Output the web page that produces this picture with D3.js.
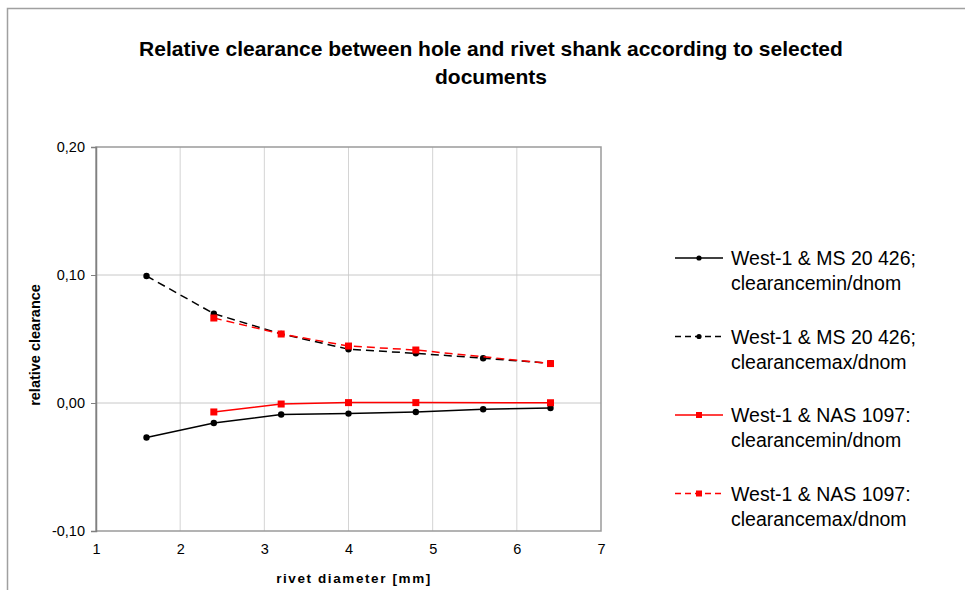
<!DOCTYPE html>
<html>
  <head>
    <meta charset="utf-8">
    <title>Relative clearance</title>
    <script src="https://d3js.org/d3.v7.min.js"></script>
    <style>
      body { margin: 0; background: #fff; }
      svg { font-family: "Liberation Sans", Arial, sans-serif; }
      .title { font-size: 21px; font-weight: bold; fill: #000; }
      .axis-title { font-weight: bold; fill: #000; }
      .legend text { font-size: 19.5px; fill: #000; }
    </style>
  </head>
  <body>
    <svg width="965" height="590"></svg>

    <script>
      // data
      const msX = [1.6, 2.4, 3.2, 4.0, 4.8, 5.6, 6.4];
      const msMin = [-0.027, -0.0156, -0.009, -0.0083, -0.007, -0.0049, -0.0039];
      const msMax = [0.0992, 0.0698, 0.054, 0.042, 0.0388, 0.035, 0.031];
      const nasX = [2.4, 3.2, 4.0, 4.8, 6.4];
      const nasMin = [-0.007, -0.0008, 0.0003, 0.0003, 0.0002];
      const nasMax = [0.0664, 0.0539, 0.0445, 0.0414, 0.0308];
      const xTicks = [1, 2, 3, 4, 5, 6, 7];
      const yTicks = [-0.1, 0, 0.1, 0.2];

      const series = [
        { x: msX, y: msMin, color: "#000", dash: null, marker: "circle",
          label: ["West-1 & MS 20 426;", "clearancemin/dnom"] },
        { x: msX, y: msMax, color: "#000", dash: "8,5", marker: "circle",
          label: ["West-1 & MS 20 426;", "clearancemax/dnom"] },
        { x: nasX, y: nasMin, color: "#ff0000", dash: null, marker: "square",
          label: ["West-1 & NAS 1097:", "clearancemin/dnom"] },
        { x: nasX, y: nasMax, color: "#ff0000", dash: "8,5", marker: "square",
          label: ["West-1 & NAS 1097:", "clearancemax/dnom"] },
      ];

      const svg = d3.select("svg");
      const plot = { left: 96, top: 147, right: 601, bottom: 531 };

      // outer frame
      svg.append("path")
        .attr("d", "M7.5,590 V8.5 H965")
        .attr("fill", "none")
        .attr("stroke", "#a0a0a0")
        .attr("stroke-width", 1.5);

      // title
      const title = svg.append("text").attr("class", "title").attr("text-anchor", "middle");
      title.append("tspan").attr("x", 491).attr("y", 56)
        .text("Relative clearance between hole and rivet shank according to selected");
      title.append("tspan").attr("x", 491).attr("y", 84).text("documents");

      const x = d3.scaleLinear().domain([1, 7]).range([plot.left, plot.right]);
      const y = d3.scaleLinear().domain([-0.1, 0.2]).range([plot.bottom, plot.top]);
      const fmt = d => d3.format(".2f")(d).replace(".", ",").replace("\u2212", "-");

      // grid
      svg.append("g").selectAll("line").data(xTicks.slice(1, -1)).join("line")
        .attr("x1", d => x(d)).attr("x2", d => x(d))
        .attr("y1", plot.top).attr("y2", plot.bottom)
        .attr("stroke", "#d4d4d4").attr("stroke-width", 1);
      svg.append("g").selectAll("line").data(yTicks.slice(1, -1)).join("line")
        .attr("x1", plot.left).attr("x2", plot.right)
        .attr("y1", d => y(d)).attr("y2", d => y(d))
        .attr("stroke", "#c8c8c8").attr("stroke-width", 1);

      // plot frame
      svg.append("rect")
        .attr("x", plot.left).attr("y", plot.top)
        .attr("width", plot.right - plot.left).attr("height", plot.bottom - plot.top)
        .attr("fill", "none").attr("stroke", "#9a9a9a").attr("stroke-width", 1.5);

      // y axis
      const yAxis = svg.append("g")
        .attr("transform", `translate(${plot.left},0)`)
        .call(d3.axisLeft(y).tickValues(yTicks).tickFormat(fmt).tickSizeOuter(0).tickSize(5).tickPadding(6));
      yAxis.attr("font-family", null).attr("font-size", null);
      yAxis.select(".domain").attr("stroke", "#808080").attr("stroke-width", 1.5);
      yAxis.selectAll(".tick line").attr("stroke", "#808080");
      yAxis.selectAll(".tick text").style("font-size", "14.5px").attr("fill", "#000");

      // x axis labels (no tick marks)
      const xAxis = svg.append("g")
        .attr("transform", `translate(0,${plot.bottom})`)
        .call(d3.axisBottom(x).tickValues(xTicks).tickFormat(d3.format("d")).tickSize(0).tickPadding(13));
      xAxis.attr("font-family", null).attr("font-size", null);
      xAxis.select(".domain").remove();
      xAxis.selectAll(".tick text").style("font-size", "14.5px").attr("fill", "#000");

      // axis titles
      svg.append("text").attr("class", "axis-title")
        .attr("x", 354).attr("y", 583).attr("text-anchor", "middle")
        .attr("letter-spacing", 1.6)
        .style("font-size", "13.5px")
        .text("rivet diameter [mm]");
      svg.append("text").attr("class", "axis-title")
        .attr("transform", "translate(40,345) rotate(-90)")
        .attr("text-anchor", "middle")
        .style("font-size", "14.5px")
        .text("relative clearance");

      // series
      const line = d3.line().x(d => x(d[0])).y(d => y(d[1]));
      function drawMarker(g, mk, color) {
        if (mk === "circle") {
          g.append("circle").attr("r", 3.2).attr("fill", color);
        } else {
          g.append("rect").attr("x", -3.5).attr("y", -3.5).attr("width", 7).attr("height", 7).attr("fill", color);
        }
      }
      const order = [0, 2, 1, 3];
      order.forEach(i => {
        const s = series[i];
        const pts = s.x.map((v, j) => [v, s.y[j]]);
        svg.append("path").datum(pts)
          .attr("d", line)
          .attr("fill", "none")
          .attr("stroke", s.color)
          .attr("stroke-width", 1.5)
          .attr("stroke-dasharray", s.dash);
        pts.forEach(p => {
          const g = svg.append("g").attr("transform", `translate(${x(p[0])},${y(p[1])})`);
          drawMarker(g, s.marker, s.color);
        });
      });

      // legend
      const legend = svg.append("g").attr("class", "legend").attr("transform", "translate(675,258)");
      series.forEach((s, i) => {
        const g = legend.append("g").attr("transform", `translate(0,${i * 78.5})`);
        g.append("line").attr("x1", 0).attr("x2", 48).attr("y1", 0).attr("y2", 0)
          .attr("stroke", s.color).attr("stroke-width", 1.4)
          .attr("stroke-dasharray", s.dash ? "6,4" : null);
        const m = g.append("g").attr("transform", "translate(24,0)");
        if (s.marker === "circle") m.append("circle").attr("r", 2.6).attr("fill", s.color);
        else m.append("rect").attr("x", -3).attr("y", -3).attr("width", 6).attr("height", 6).attr("fill", s.color);
        const t = g.append("text").attr("x", 56).attr("y", 7);
        t.append("tspan").attr("x", 56).attr("dy", 0).text(s.label[0]);
        t.append("tspan").attr("x", 56).attr("dy", 25).text(s.label[1]);
      });
    </script>
  </body>
</html>
